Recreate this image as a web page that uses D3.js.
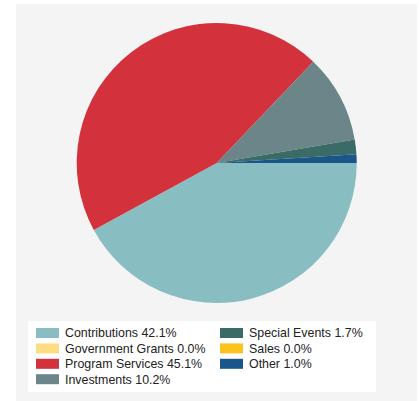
<!DOCTYPE html>
<html>
<head>
<meta charset="utf-8">
<script src="https://cdn.jsdelivr.net/npm/d3@7"></script>
<style>
  html, body { margin: 0; padding: 0; background: #fff; }
  svg { display: block; }
</style>
</head>
<body>
<div id="chart"></div>
<script>
(function() {
  "use strict";

  // Revenue categories, in the order they are drawn (clockwise from 3 o'clock)
  const categories = ["Contributions", "Government Grants", "Program Services", "Investments",
                      "Special Events", "Sales", "Other"];
  const shares = [42.1, 0.0, 45.1, 10.2, 1.7, 0.0, 1.0];
  const colors = ["#88bec1", "#fddc82", "#d3313b", "#6c8588", "#3a6b66", "#fcc320", "#1a5689"];

  const width = 419, height = 401;
  const cx = 216.7, cy = 163, radius = 140;

  const svg = d3.select("#chart").append("svg")
      .attr("width", width)
      .attr("height", height)
      .style("font", "12.4px 'Liberation Sans', Arial, sans-serif");

  // panel background
  svg.append("rect")
      .attr("x", 16).attr("y", 4)
      .attr("width", width - 18).attr("height", height - 4)
      .attr("fill", "#f4f4f4");

  const data = categories.map((c, i) => ({ name: c, value: shares[i], color: colors[i] }));

  const pie = d3.pie()
      .sort(null)
      .value(d => d.value)
      .startAngle(Math.PI / 2)
      .endAngle(Math.PI / 2 + 2 * Math.PI);

  const arc = d3.arc().innerRadius(0).outerRadius(radius);

  svg.append("g")
      .attr("transform", `translate(${cx},${cy})`)
    .selectAll("path")
    .data(pie(data))
    .join("path")
      .attr("d", arc)
      .attr("fill", d => d.data.color);

  // legend
  const legend = svg.append("g");
  legend.append("rect")
      .attr("x", 28).attr("y", 321)
      .attr("width", 348).attr("height", 71)
      .attr("fill", "#fff");

  const rowH = 15.4;
  const item = legend.selectAll("g.item")
    .data(data)
    .join("g")
      .attr("class", "item")
      .attr("transform", (d, i) => {
        const col = i < 4 ? 0 : 1;
        const row = i < 4 ? i : i - 4;
        return `translate(${col ? 220 : 36},${328 + row * rowH})`;
      });

  item.append("rect")
      .attr("width", 23).attr("height", 10)
      .attr("fill", d => d.color);

  item.append("text")
      .attr("x", 29)
      .attr("y", 5)
      .attr("dy", "0.36em")
      .attr("fill", "#222")
      .text(d => `${d.name} ${d3.format(".1f")(d.value)}%`);
})();
</script>
</body>
</html>
